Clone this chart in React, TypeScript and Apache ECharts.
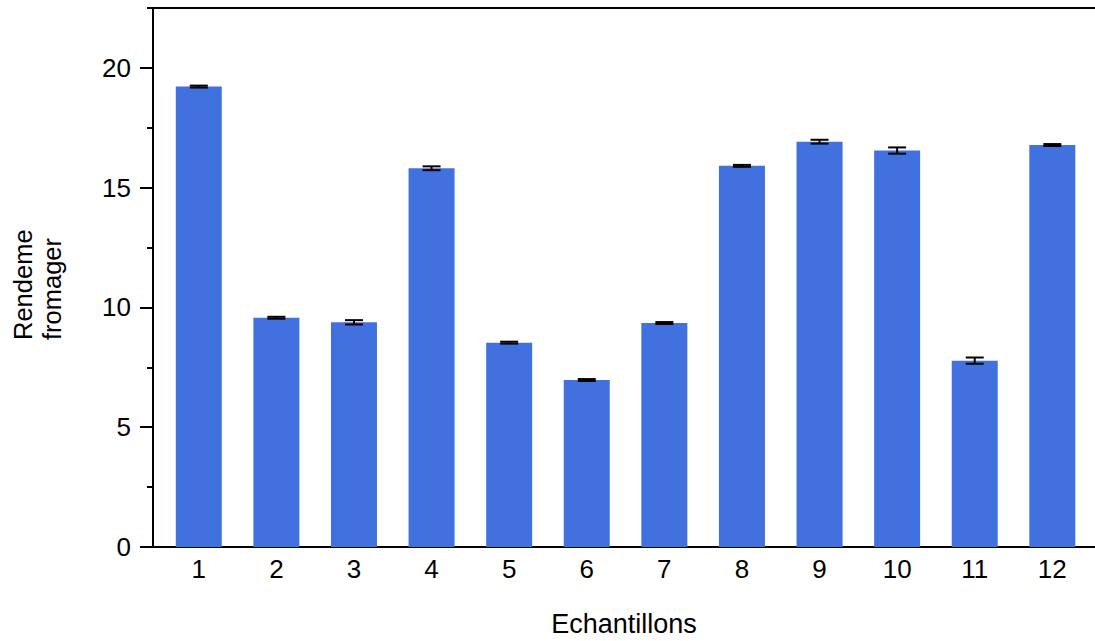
import React, { useEffect, useRef } from "react";
import * as echarts from "echarts";

const samples = [1, 2, 3, 4, 5, 6, 7, 8, 9, 10, 11, 12];
const yields = [19.22, 9.57, 9.38, 15.81, 8.53, 6.97, 9.35, 15.91, 16.92, 16.55, 7.78, 16.78];
const errors = [0.04, 0.04, 0.09, 0.08, 0.04, 0.04, 0.04, 0.04, 0.08, 0.13, 0.13, 0.04];
const yTicks = [0, 5, 10, 15, 20];
const yTitle = "Rendeme\nfromager";

export default function App() {
  const ref = useRef<HTMLDivElement>(null);
  useEffect(() => {
    if (!ref.current) return;
    const chart = echarts.init(ref.current, null, { renderer: "svg" });
    const font = "'Liberation Sans', Arial, sans-serif";
    chart.setOption({
      animation: false,
      backgroundColor: "#ffffff",
      grid: { left: 153, right: 0, top: 8, bottom: 94, containLabel: false, outerBoundsMode: "none" },
      xAxis: [
        {
          type: "value",
          min: 0.41,
          max: 12.55,
          name: "Echantillons",
          nameLocation: "middle",
          nameGap: 63,
          nameTextStyle: { fontFamily: font, fontSize: 27, color: "#000" },
          axisLine: { show: true, lineStyle: { color: "#000", width: 2 } },
          axisTick: { show: false },
          splitLine: { show: false },
          axisLabel: {
            customValues: samples,
            fontFamily: font,
            fontSize: 26,
            color: "#000",
            margin: 9,
            formatter: (v: number) => String(Math.round(v)),
          },
        },
        {
          type: "value",
          position: "top",
          min: 0.41,
          max: 12.55,
          axisLine: { show: true, lineStyle: { color: "#000", width: 2 } },
          axisTick: { show: false },
          axisLabel: { show: false },
          splitLine: { show: false },
        },
      ],
      yAxis: {
        type: "value",
        min: 0,
        max: 22.5,
        interval: 5,
        axisLine: { show: true, lineStyle: { color: "#000", width: 2 } },
        axisTick: { show: true, length: 13, lineStyle: { color: "#000", width: 2 }, customValues: yTicks },
        minorTick: { show: true, splitNumber: 2, length: 6, lineStyle: { color: "#000", width: 2 } },
        splitLine: { show: false },
        axisLabel: {
          customValues: yTicks,
          fontFamily: font,
          fontSize: 26,
          color: "#000",
          margin: 22,
        },
      },
      series: [
        {
          type: "bar",
          barWidth: 46,
          itemStyle: { color: "#4170DF" },
          data: samples.map((s, i) => [s, yields[i]]),
          z: 2,
        },
        {
          type: "custom",
          z: 5,
          data: samples.map((s, i) => [s, yields[i] - errors[i], yields[i] + errors[i]]),
          renderItem: (params: any, api: any) => {
            const x = api.value(0);
            const lo = api.coord([x, api.value(1)]);
            const hi = api.coord([x, api.value(2)]);
            const hw = 9;
            const style = { stroke: "#000", lineWidth: 2 };
            return {
              type: "group",
              children: [
                { type: "line", shape: { x1: lo[0], y1: lo[1], x2: hi[0], y2: hi[1] }, style },
                { type: "line", shape: { x1: lo[0] - hw, y1: lo[1], x2: lo[0] + hw, y2: lo[1] }, style },
                { type: "line", shape: { x1: hi[0] - hw, y1: hi[1], x2: hi[0] + hw, y2: hi[1] }, style },
              ],
            };
          },
        },
      ],
      graphic: [
        { type: "line", shape: { x1: 147, y1: 8, x2: 154, y2: 8 }, style: { stroke: "#000", lineWidth: 2 } },
        {
          type: "text",
          x: 8,
          y: 340,
          rotation: Math.PI / 2,
          style: {
            text: yTitle,
            fontFamily: font,
            fontSize: 25.5,
            lineHeight: 29,
            fill: "#000",
            align: "left",
            verticalAlign: "top",
          },
        },
      ],
    });
    return () => chart.dispose();
  }, []);
  return <div ref={ref} style={{ width: 1095, height: 641, position: "absolute", left: 0, top: 0 }} />;
}
